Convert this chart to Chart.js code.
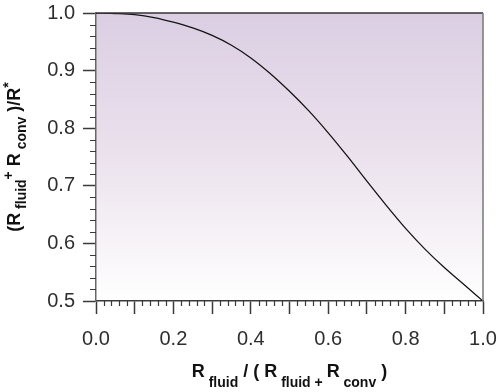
<!DOCTYPE html>
<html>
<head>
<meta charset="utf-8">
<script src="https://cdn.jsdelivr.net/npm/chart.js@4"></script>
<style>
  html, body { margin: 0; padding: 0; background: #fff; }
  #wrap { width: 500px; height: 392px; }
</style>
</head>
<body>
<div id="wrap"><canvas id="chart" width="500" height="392"></canvas></div>
<script>
// Curve: x = Rfluid/(Rfluid+Rconv), y = (Rfluid+Rconv)/R*
const fluidFraction = [0, 0.05, 0.10, 0.15, 0.20, 0.25, 0.30, 0.35, 0.40, 0.45, 0.50,
                       0.55, 0.60, 0.65, 0.70, 0.75, 0.80, 0.85, 0.90, 0.95, 1.00];
const resistanceRatio = [1.000, 0.999, 0.997, 0.992, 0.984, 0.974, 0.961, 0.944, 0.922, 0.895, 0.864,
                         0.830, 0.792, 0.751, 0.708, 0.666, 0.626, 0.590, 0.558, 0.529, 0.500];

// Axis ranges and tick steps
const xRange = [0, 1];
const yRange = [0.5, 1];
const xMajorStep = 0.1;
const xLabelStep = 0.2;
const yMajorStep = 0.1;
const minorStep = 0.02;

// Axis titles split into pieces: main text, subscript, superscript
const xTitleParts = [
    { t: 'R', k: 'main' }, { t: ' fluid', k: 'sub' }, { t: ' / ( ', k: 'main' },
    { t: 'R', k: 'main' }, { t: ' fluid', k: 'sub' }, { t: ' + ', k: 'sub' },
    { t: 'R', k: 'main' }, { t: ' conv', k: 'sub' }, { t: ' )', k: 'main' }
];
const yTitleParts = [
    { t: '(R', k: 'main' }, { t: ' fluid', k: 'sub' }, { t: '+', k: 'sup' },
    { t: ' R', k: 'main' }, { t: ' conv', k: 'sub' }, { t: ' )/R', k: 'main' },
    { t: '*', k: 'sup' }
];

const axisColor = '#3a3a3a';
const labelFont = 'Liberation Sans, Arial, sans-serif';

function partFont(kind) {
    return kind === 'main' ? 'bold 18px ' + labelFont : 'bold 14px ' + labelFont;
}

// Draw a title made of pieces, centred on (0,0) in the current transform
function drawParts(ctx, parts, offsets) {
    let total = 0;
    parts.forEach(p => { ctx.font = partFont(p.k); total += ctx.measureText(p.t).width; });
    let x = -total / 2;
    parts.forEach(p => {
        ctx.font = partFont(p.k);
        ctx.fillText(p.t, x, offsets[p.k]);
        x += ctx.measureText(p.t).width;
    });
}

// Plot background gradient
const backgroundPlugin = {
    id: 'plotBackground',
    beforeDraw(chart) {
        const { ctx, chartArea: a } = chart;
        const g = ctx.createLinearGradient(0, a.top, 0, a.bottom);
        g.addColorStop(0, '#dbcee3');
        g.addColorStop(0.5, '#ebe2ed');
        g.addColorStop(0.85, '#f9f6f9');
        g.addColorStop(1, '#ffffff');
        ctx.save();
        ctx.fillStyle = g;
        ctx.fillRect(a.left, a.top, a.right - a.left, a.bottom - a.top);
        ctx.restore();
    }
};

// Minor ticks, frame and axis titles
const decorPlugin = {
    id: 'decor',
    afterDraw(chart) {
        const { ctx, chartArea: a, scales } = chart;
        ctx.save();
        ctx.strokeStyle = axisColor;
        ctx.lineWidth = 1.2;
        ctx.beginPath();
        for (let i = 0; i <= Math.round((xRange[1] - xRange[0]) / minorStep); i++) {
            if (i % 5 === 0) continue;
            const px = Math.round(scales.x.getPixelForValue(xRange[0] + i * minorStep)) + 0.5;
            ctx.moveTo(px, a.bottom);
            ctx.lineTo(px, a.bottom + 5);
        }
        for (let i = 0; i <= Math.round((yRange[1] - yRange[0]) / minorStep); i++) {
            if (i % 5 === 0) continue;
            const py = Math.round(scales.y.getPixelForValue(yRange[0] + i * minorStep)) + 0.5;
            ctx.moveTo(a.left - 6, py);
            ctx.lineTo(a.left, py);
        }
        ctx.stroke();

        // top and right frame
        ctx.lineWidth = 1.5;
        ctx.strokeStyle = '#333';
        ctx.beginPath();
        ctx.moveTo(a.left, a.top);
        ctx.lineTo(a.right, a.top);
        ctx.stroke();
        ctx.strokeStyle = '#777';
        ctx.beginPath();
        ctx.moveTo(a.right, a.top);
        ctx.lineTo(a.right, a.bottom);
        ctx.stroke();

        // axis titles
        ctx.fillStyle = '#111';
        ctx.textBaseline = 'alphabetic';
        ctx.textAlign = 'left';
        ctx.save();
        ctx.translate((a.left + a.right) / 2, 377);
        drawParts(ctx, xTitleParts, { main: 0, sub: 10, sup: -7 });
        ctx.restore();

        ctx.save();
        ctx.translate(20, (a.top + a.bottom) / 2);
        ctx.rotate(-Math.PI / 2);
        drawParts(ctx, yTitleParts, { main: 0, sub: 6, sup: -7 });
        ctx.restore();
        ctx.restore();
    }
};

const ctx = document.getElementById('chart').getContext('2d');
new Chart(ctx, {
    type: 'scatter',
    data: {
        datasets: [{
            data: fluidFraction.map((v, i) => ({ x: v, y: resistanceRatio[i] })),
            showLine: true,
            borderColor: '#141414',
            borderWidth: 1.3,
            pointRadius: 0,
            cubicInterpolationMode: 'monotone',
            fill: false
        }]
    },
    options: {
        responsive: false,
        animation: false,
        layout: { padding: { top: 13, right: 17, left: 0, bottom: 0 } },
        plugins: {
            legend: { display: false },
            tooltip: { enabled: false }
        },
        scales: {
            x: {
                type: 'linear',
                min: xRange[0],
                max: xRange[1],
                afterFit: s => { s.height = 91; s.paddingLeft = 0; s.paddingRight = 0; },
                border: { color: axisColor, width: 1.5 },
                grid: { drawOnChartArea: false, tickLength: 13, tickColor: axisColor, tickWidth: 1.5 },
                ticks: {
                    stepSize: xMajorStep,
                    autoSkip: false,
                    maxRotation: 0,
                    padding: 13,
                    color: '#2e2e2e',
                    font: { family: labelFont, size: 20 },
                    callback: v => Math.round(v / xMajorStep) % Math.round(xLabelStep / xMajorStep) === 0 ? v.toFixed(1) : ''
                }
            },
            y: {
                type: 'linear',
                min: yRange[0],
                max: yRange[1],
                afterFit: s => { s.width = 96; s.paddingTop = 0; s.paddingBottom = 0; },
                border: { color: '#666', width: 1.5 },
                grid: { drawOnChartArea: false, tickLength: 13, tickColor: axisColor, tickWidth: 1.5 },
                ticks: {
                    stepSize: yMajorStep,
                    padding: 8,
                    color: '#2e2e2e',
                    font: { family: labelFont, size: 20 },
                    callback: v => v.toFixed(1)
                }
            }
        }
    },
    plugins: [backgroundPlugin, decorPlugin]
});
</script>
</body>
</html>
